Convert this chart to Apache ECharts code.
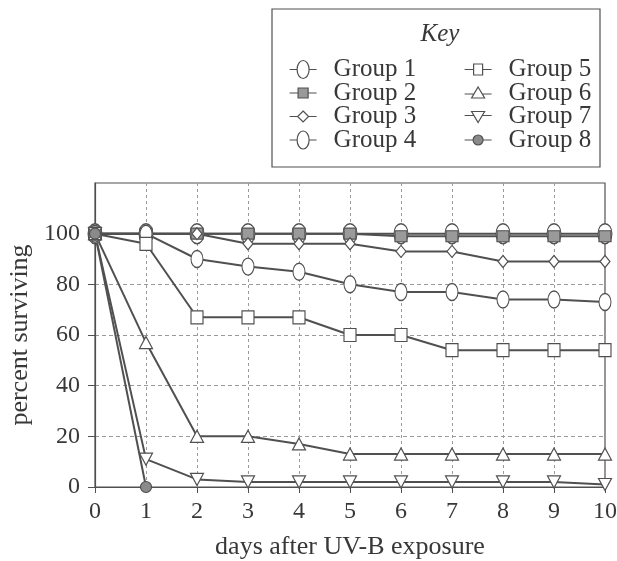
<!DOCTYPE html>
<html>
<head>
<meta charset="utf-8">
<script src="https://cdn.jsdelivr.net/npm/echarts@6/dist/echarts.min.js"></script>
<style>html,body{margin:0;padding:0;background:#fff;}#c{width:617px;height:561px;}</style>
</head>
<body>
<div id="c"></div>
<script>
const days = [0, 1, 2, 3, 4, 5, 6, 7, 8, 9, 10];
const yTicks = [0, 20, 40, 60, 80, 100];
const groupNames = ['Group 1', 'Group 2', 'Group 3', 'Group 4', 'Group 5', 'Group 6', 'Group 7', 'Group 8'];
const group1 = [100, 100, 100, 100, 100, 100, 100, 100, 100, 100, 100];
const group2 = [100, 100, 100, 100, 100, 100, 99, 99, 99, 99, 99];
const group3 = [100, 100, 100, 96, 96, 96, 93, 93, 89, 89, 89];
const group4 = [100, 100, 90, 87, 85, 80, 77, 77, 74, 74, 73];
const group5 = [100, 96, 67, 67, 67, 60, 60, 54, 54, 54, 54];
const group6 = [100, 57, 20, 20, 17, 13, 13, 13, 13, 13, 13];
const group7 = [100, 11, 3, 2, 2, 2, 2, 2, 2, 2, 1];
const group8 = [100, 0];

const FONT = 'Liberation Serif';
const TXT = '#383838';
const INK = '#505050';

function ell(cx, cy, rx, ry) {
  const k = 0.5523;
  return 'M' + (cx - rx) + ' ' + cy +
    ' C' + (cx - rx) + ' ' + (cy - k * ry) + ' ' + (cx - k * rx) + ' ' + (cy - ry) + ' ' + cx + ' ' + (cy - ry) +
    ' C' + (cx + k * rx) + ' ' + (cy - ry) + ' ' + (cx + rx) + ' ' + (cy - k * ry) + ' ' + (cx + rx) + ' ' + cy +
    ' C' + (cx + rx) + ' ' + (cy + k * ry) + ' ' + (cx + k * rx) + ' ' + (cy + ry) + ' ' + cx + ' ' + (cy + ry) +
    ' C' + (cx - k * rx) + ' ' + (cy + ry) + ' ' + (cx - rx) + ' ' + (cy + k * ry) + ' ' + (cx - rx) + ' ' + cy + ' Z';
}
const ellipseSymbol = 'path://' + ell(10, 10, 10, 10);
const anchors = ' M13.5 0 L13.5 0.001 M13.5 18 L13.5 17.999';
const legendIcons = [
  'path://M0 9 L7.5 9 M19.5 9 L27 9 ' + ell(13.5, 9, 6, 9),
  'path://M0 9 L8.5 9 M18.5 9 L27 9 M8.5 4 L18.5 4 L18.5 14 L8.5 14 Z' + anchors,
  'path://M0 9 L8 9 M19 9 L27 9 M13.5 3.5 L19 9 L13.5 14.5 L8 9 Z' + anchors,
  'path://M0 9 L7.5 9 M19.5 9 L27 9 ' + ell(13.5, 9, 6, 9),
  'path://M0 9 L9 9 M18 9 L27 9 M9 3.5 L18 3.5 L18 14.5 L9 14.5 Z' + anchors,
  'path://M0 10 L9.36 10 M17.64 10 L27 10 M13.5 3 L20 14 L7 14 Z' + anchors,
  'path://M0 8 L9.36 8 M17.64 8 L27 8 M13.5 15 L20 4 L7 4 Z' + anchors,
  'path://M0 9 L8.5 9 M18.5 9 L27 9 ' + ell(13.5, 9, 5, 5) + anchors
];
const fills = ['#ffffff', '#9a9a9a', '#ffffff', '#ffffff', '#ffffff', '#ffffff', '#ffffff', '#8a8a8a'];
const symbols = [ellipseSymbol, 'rect', 'diamond', ellipseSymbol, 'rect', 'triangle', 'triangle', 'circle'];
const sizes = [[14, 20], [12, 11], [10, 12], [12, 17], [12, 13], [13, 12], [13, 12], [11, 11]];
const rotates = [0, 0, 0, 0, 0, 0, 180, 0];
const values = [group1, group2, group3, group4, group5, group6, group7, group8];

const series = values.map((vals, g) => ({
  name: groupNames[g],
  type: 'line',
  data: vals.map((v, i) => [days[i], v]),
  symbol: symbols[g],
  symbolSize: sizes[g],
  symbolRotate: rotates[g],
  showAllSymbol: true,
  lineStyle: { color: INK, width: 2 },
  itemStyle: { color: fills[g], borderColor: INK, borderWidth: 1.2 },
  emphasis: { disabled: true },
  animation: false
}));

function legendData(from, to) {
  const out = [];
  for (let g = from; g < to; g++) {
    out.push({
      name: groupNames[g],
      icon: legendIcons[g],
      itemStyle: { color: fills[g], borderColor: INK, borderWidth: 1.2 }
    });
  }
  return out;
}
const legendCommon = {
  orient: 'vertical',
  top: 57,
  padding: 0,
  itemWidth: 27,
  itemHeight: 18,
  itemGap: -1.5,
  selectedMode: false,
  textStyle: { fontFamily: FONT, fontSize: 25, color: TXT, lineHeight: 23, padding: [0, 0, 0, 12] }
};

const chart = echarts.init(document.getElementById('c'), null, { renderer: 'canvas' });
chart.setOption({
  backgroundColor: '#ffffff',
  animation: false,
  grid: { left: 95, right: 12, top: 183, bottom: 74, show: true, borderColor: INK, borderWidth: 1.2, backgroundColor: 'transparent', outerBoundsMode: 'none', containLabel: false },
  legend: [
    Object.assign({ left: 289, data: legendData(0, 4) }, legendCommon),
    Object.assign({ left: 464, data: legendData(4, 8) }, legendCommon)
  ],
  graphic: [
    { type: 'rect', shape: { x: 272, y: 9, width: 328, height: 158 }, style: { fill: 'none', stroke: INK, lineWidth: 1.2 }, silent: true },
    { type: 'text', x: 440, y: 34, style: { text: 'Key', fontFamily: FONT, fontStyle: 'italic', fontSize: 25, fill: TXT, textAlign: 'center', textVerticalAlign: 'middle' }, silent: true }
  ],
  xAxis: {
    type: 'value', min: 0, max: 10, interval: 1,
    name: 'days after UV-B exposure', nameLocation: 'middle', nameGap: 47,
    nameTextStyle: { fontFamily: FONT, fontSize: 26, color: TXT },
    axisLine: { show: true, lineStyle: { color: INK, width: 1.2 } },
    axisTick: { show: true, length: 6, lineStyle: { color: INK } },
    axisLabel: { fontFamily: FONT, fontSize: 24, color: TXT, margin: 13 },
    splitLine: { show: true, lineStyle: { color: '#9a9a9a', type: [3, 3], width: 1 } }
  },
  yAxis: {
    type: 'value', min: 0, max: 120, interval: 20,
    name: 'percent surviving', nameLocation: 'middle', nameGap: 47,
    nameTextStyle: { fontFamily: FONT, fontSize: 26, color: TXT },
    axisLine: { show: true, lineStyle: { color: INK, width: 1.2 } },
    axisTick: { show: true, length: 7, lineStyle: { color: INK }, customValues: yTicks },
    axisLabel: { fontFamily: FONT, fontSize: 24, color: TXT, margin: 15, customValues: yTicks },
    splitLine: { show: true, lineStyle: { color: '#9a9a9a', type: [4, 3], width: 1 } }
  },
  series: series
});
</script>
</body>
</html>
